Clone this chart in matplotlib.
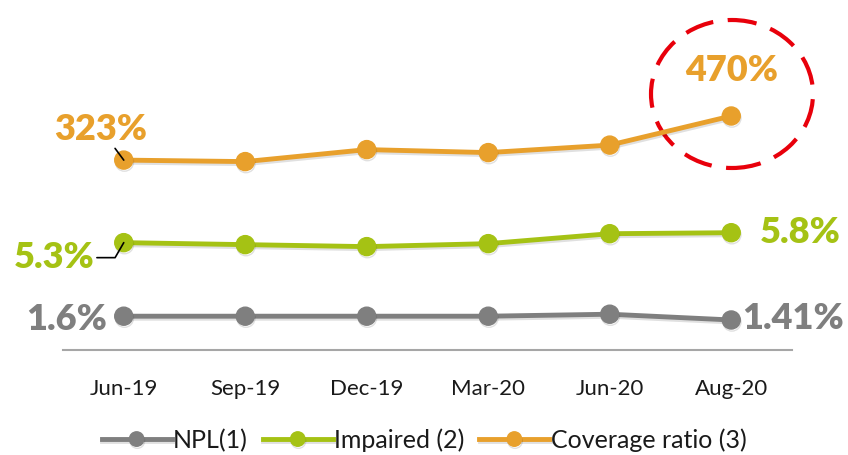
import matplotlib.pyplot as plt
import matplotlib.patheffects as pe
from matplotlib.patches import Ellipse

plt.rcParams['font.family'] = ['Lato', 'DejaVu Sans']

# data
periods = ["Jun-19", "Sep-19", "Dec-19", "Mar-20", "Jun-20", "Aug-20"]
npl = [1.6, 1.6, 1.6, 1.6, 1.7, 1.41]
impaired = [5.3, 5.2, 5.1, 5.25, 5.75, 5.8]
coverage = [323, 318, 358, 348, 373, 470]
series_names = ["NPL(1)", "Impaired (2)", "Coverage ratio (3)"]

c_npl = "#7f7f7f"
c_imp = "#a5c214"
c_cov = "#e8a02c"

fig = plt.figure(figsize=(8.48, 4.55), dpi=100)
ax = fig.add_axes([63 / 848, 1 - 350 / 455, 729 / 848, 330 / 455])
ax2 = ax.twinx()

shadow = [pe.SimpleLineShadow(offset=(0.5, -1.5), alpha=0.12), pe.Normal()]
x = range(len(periods))
l1, = ax.plot(x, npl, color=c_npl, lw=3.5, marker="o", ms=13, path_effects=shadow, label=series_names[0])
l2, = ax.plot(x, impaired, color=c_imp, lw=3.5, marker="o", ms=13, path_effects=shadow, label=series_names[1])
l3, = ax2.plot(x, coverage, color=c_cov, lw=3.5, marker="o", ms=13, path_effects=shadow, label=series_names[2])

ax.set_xlim(-0.5, 5.5)
ax.set_ylim(-0.1, 16.5)
ax2.set_ylim(-310, 790)

for a in (ax, ax2):
    for s in ["top", "left", "right"]:
        a.spines[s].set_visible(False)
    a.set_yticks([])
ax2.spines["bottom"].set_visible(False)
ax.spines["bottom"].set_color("#a6a6a6")
ax.spines["bottom"].set_linewidth(1.5)
ax.set_xticks(list(x))
ax.set_xticklabels(periods, fontsize=16, color="#1a1a1a")
ax.tick_params(axis="x", length=0, pad=21)

bold = dict(fontsize=26, fontweight="heavy", ha="center", va="center")
line_kw = dict(arrowstyle="-", color="black", lw=1.2, shrinkA=0, shrinkB=0)

ax2.annotate(f"{coverage[0]}%", xy=(0, coverage[0]), xytext=(-23, 31), textcoords="offset pixels",
             color=c_cov, arrowprops=line_kw, **bold)
ax2.annotate(f"{coverage[-1]}%", xy=(5, coverage[-1]), xytext=(0, 46), textcoords="offset pixels",
             color=c_cov, **bold)
ax.annotate(f"{impaired[0]}%", xy=(0, impaired[0]), xytext=(-70, -15), textcoords="offset pixels",
            color=c_imp, arrowprops=dict(line_kw, connectionstyle="angle,angleA=0,angleB=60,rad=0"), **bold)
ax.annotate(f"{impaired[-1]}%", xy=(5, impaired[-1]), xytext=(69, 0), textcoords="offset pixels",
            color=c_imp, **bold)
ax.annotate(f"{npl[0]}%", xy=(0, npl[0]), xytext=(-57, -3), textcoords="offset pixels",
            color=c_npl, **bold)
ax.annotate(f"{npl[-1]}%", xy=(5, npl[-1]), xytext=(62, 1), textcoords="offset pixels",
            color=c_npl, **bold)

# red dashed highlight around the last coverage value
ell = Ellipse(((732 - 63) / 729, (350 - 94) / 330), 162 / 729, 148 / 330, transform=ax.transAxes,
              fill=False, edgecolor="#e8000b", lw=3, ls=(0, (7, 3.5)), clip_on=False)
ax.add_patch(ell)

ax.legend(handles=[l1, l2, l3], loc="center", bbox_to_anchor=(0.5, 15 / 455), bbox_transform=fig.transFigure,
          ncol=3, frameon=False, fontsize=18, handlelength=2.8, handletextpad=0.05, columnspacing=0.6,
          markerscale=0.8, labelcolor="#1a1a1a")

fig.savefig("out.png", dpi=100)
